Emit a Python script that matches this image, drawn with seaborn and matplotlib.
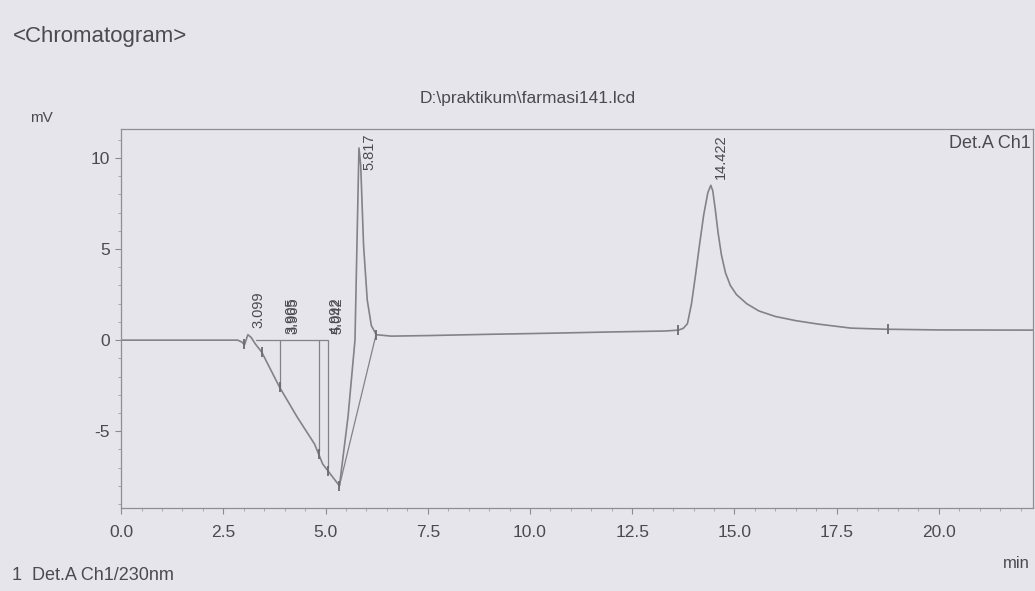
import numpy as np
import pandas as pd
import matplotlib
matplotlib.use("Agg")
import matplotlib.pyplot as plt
from matplotlib.ticker import MultipleLocator, FormatStrFormatter
import seaborn as sns

# ---- data ----
time_min = [0.0, 2.85, 2.95, 3.02, 3.10, 3.18, 3.28, 3.44, 3.88, 4.30, 4.73, 4.93,
            5.34, 5.55, 5.72, 5.817, 5.86, 5.93, 6.02, 6.12, 6.24, 6.6, 7.5, 9.0,
            10.5, 12.0, 13.3, 13.63, 13.75, 13.85, 13.95, 14.05, 14.15, 14.25,
            14.35, 14.422, 14.47, 14.53, 14.60, 14.68, 14.78, 14.90, 15.05, 15.30,
            15.60, 16.00, 16.50, 17.05, 17.85, 18.68, 20.0, 22.3]
signal_mV = [0.0, 0.0, -0.1, -0.25, 0.3, 0.15, -0.2, -0.66, -2.6, -4.2, -5.7, -6.8,
             -8.0, -4.2, 0.0, 10.55, 9.6, 5.2, 2.2, 0.8, 0.3, 0.22, 0.25, 0.32,
             0.38, 0.45, 0.5, 0.55, 0.65, 0.9, 2.0, 3.6, 5.3, 6.9,
             8.1, 8.5, 8.2, 7.2, 5.9, 4.7, 3.7, 3.0, 2.5, 2.0,
             1.6, 1.3, 1.07, 0.88, 0.66, 0.6, 0.56, 0.55]

# retention-time labels
peak_rt = [3.099, 3.905, 3.965, 4.992, 5.042, 5.817, 14.422]
peak_labels = ["3.099", "3.905", "3.965", "4.992", "5.042", "5.817", "14.422"]

# integration marks (perpendicular drops, baselines)
drop_t = [3.88, 4.83, 5.07]
drop_mV = [-2.6, -6.1, -7.0]
baseline_t = [3.30, 5.07]
baseline_mV = [0.0, 0.0]
valley_line_t = [5.34, 6.24]
valley_line_mV = [-8.0, 0.35]
mark_t = [3.00, 3.44, 3.88, 4.83, 5.07, 5.34, 6.24, 13.63, 18.75]

x_ticks = [0.0, 2.5, 5.0, 7.5, 10.0, 12.5, 15.0, 17.5, 20.0]
y_ticks = [-5, 0, 5, 10]

# ---- styling ----
sns.set_theme(style="white")
bg = "#e6e5eb"
ink = "#4a4a50"
trace_c = "#828288"
plt.rcParams["font.family"] = ["Liberation Sans", "DejaVu Sans"]
plt.rcParams["axes.unicode_minus"] = False

fig = plt.figure(figsize=(10.35, 5.91), dpi=100, facecolor=bg)
ax = fig.add_axes([0.117, 0.140, 0.881, 0.642])
ax.set_facecolor(bg)

df = pd.DataFrame({"t": time_min, "mV": signal_mV})
sns.lineplot(data=df, x="t", y="mV", ax=ax, color=trace_c, linewidth=1.2,
             estimator=None, sort=False)

ax.vlines(drop_t, drop_mV, 0, color=trace_c, linewidth=0.9)
ax.plot(baseline_t, baseline_mV, color=trace_c, linewidth=0.9)
ax.plot(valley_line_t, valley_line_mV, color=trace_c, linewidth=0.9)
mark_y = np.interp(mark_t, time_min, signal_mV)
ax.plot(mark_t, mark_y, linestyle="none", marker="|", markersize=7,
        color="#6a6a70", markeredgewidth=1.3)

ymax, ymin = 11.6, -9.23
ax.set_xlim(0, 22.3)
ax.set_ylim(ymin, ymax)

# retention labels
for rt, lab in zip(peak_rt, peak_labels):
    s = float(np.interp(rt, time_min, signal_mV))
    bottom = max(s, 0.0) + 0.35
    if bottom + 2.6 > ymax:
        ax.text(rt + 0.25, ymax - 0.25, lab, rotation=90, ha="center", va="top",
                fontsize=10.5, color=ink)
    else:
        ax.text(rt + 0.25, bottom, lab, rotation=90, ha="center", va="bottom",
                fontsize=10.5, color=ink)

ax.set_xticks(x_ticks)
ax.set_yticks(y_ticks)
ax.xaxis.set_major_formatter(FormatStrFormatter("%.1f"))
ax.xaxis.set_minor_locator(MultipleLocator(0.5))
ax.yaxis.set_minor_locator(MultipleLocator(1))
ax.tick_params(axis="both", which="major", direction="out", length=4, width=0.8,
               color="#8a8a90", labelsize=12.5, labelcolor=ink)
ax.tick_params(axis="x", which="major", pad=8)
ax.tick_params(axis="y", which="major", pad=4)
ax.tick_params(axis="both", which="minor", direction="out", length=2.5, width=0.6,
               color="#9a9aa0")
ax.tick_params(axis="x", which="both", bottom=True)
ax.tick_params(axis="y", which="both", left=True)
for sp in ax.spines.values():
    sp.set_color("#8e8e94")
    sp.set_linewidth(0.9)
ax.set_xlabel("")
ax.set_ylabel("")

ax.text(0.998, 0.985, "Det.A Ch1", transform=ax.transAxes, ha="right", va="top",
        fontsize=13, color=ink)

fig.text(0.012, 0.938, "<Chromatogram>", ha="left", va="center", fontsize=16,
         color=ink)
fig.text(0.51, 0.834, "D:\\praktikum\\farmasi141.lcd", ha="center", va="center",
         fontsize=12.5, color=ink)
fig.text(0.040, 0.800, "mV", ha="center", va="center", fontsize=11, color=ink)
fig.text(0.982, 0.046, "min", ha="center", va="center", fontsize=12, color=ink)
fig.text(0.012, 0.026, "1  Det.A Ch1/230nm", ha="left", va="center", fontsize=13,
         color=ink)

fig.savefig("out.png", dpi=100, facecolor=bg)
